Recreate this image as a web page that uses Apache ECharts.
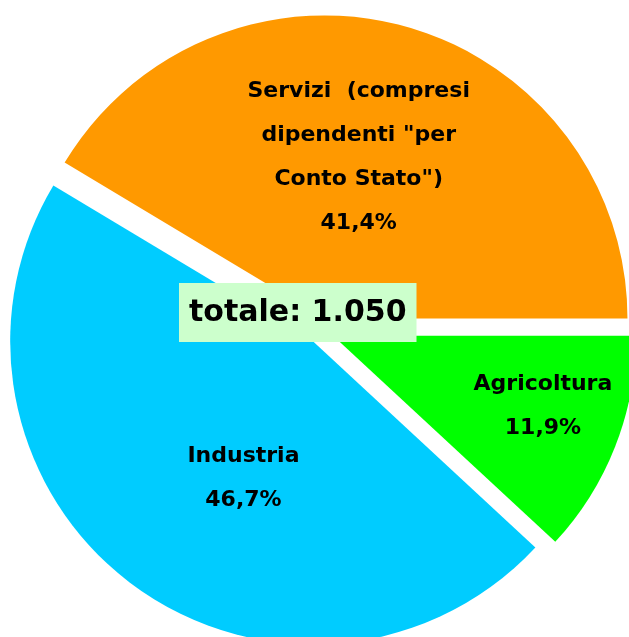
<!DOCTYPE html>
<html>
<head>
<meta charset="utf-8">
<script src="https://cdn.jsdelivr.net/npm/echarts@6/dist/echarts.min.js"></script>
<style>
  html, body { margin: 0; padding: 0; background: #fff; }
  #chart { width: 629px; height: 637px; }
</style>
</head>
<body>
<div id="chart"></div>
<script>
// dati del grafico
var categorie = ['Servizi  (compresi\ndipendenti "per\nConto Stato")', 'Agricoltura', 'Industria'];
var percentuali = [41.4, 11.9, 46.7];
var colori = ['#FF9900', '#00FF00', '#00CCFF'];
var totale = '1.050';

// spostamento delle etichette rispetto alla posizione "inside"
var spostamenti = [[-7, -12], [66, 14], [23, 13]];

window.onload = function () {
  drawChart();
};

function drawChart() {
  var myChart = echarts.init(document.getElementById('chart'));

  var dati = categorie.map(function (c, i) {
    return { name: c, value: percentuali[i], selected: true, itemStyle: { color: colori[i] } };
  });

  var option = {
    animation: false,
    title: {
      text: 'totale: ' + totale,
      left: 179,
      top: 283,
      backgroundColor: '#CCFFCC',
      padding: [15, 10, 14, 10],
      textStyle: {
        fontFamily: '"Comic Sans MS", "DejaVu Sans", sans-serif',
        fontWeight: 'bold',
        fontSize: 30,
        color: '#000'
      },
      z: 10
    },
    series: [
      {
        type: 'pie',
        center: [321, 331],
        radius: 303,
        startAngle: 149.04,
        clockwise: true,
        selectedMode: 'multiple',
        selectedOffset: 13,
        avoidLabelOverlap: false,
        emphasis: { disabled: true },
        label: {
          show: true,
          position: 'inside',
          formatter: function (p) {
            return p.name + '\n' + p.value.toFixed(1).replace('.', ',') + '%';
          },
          fontFamily: '"Comic Sans MS", "DejaVu Sans", sans-serif',
          fontWeight: 'bold',
          fontSize: 22,
          lineHeight: 44,
          color: '#000'
        },
        labelLine: { show: false },
        labelLayout: function (params) {
          var s = spostamenti[params.dataIndex];
          return { dx: s[0], dy: s[1] };
        },
        data: dati
      }
    ]
  };

  myChart.setOption(option);
}
</script>
</body>
</html>
